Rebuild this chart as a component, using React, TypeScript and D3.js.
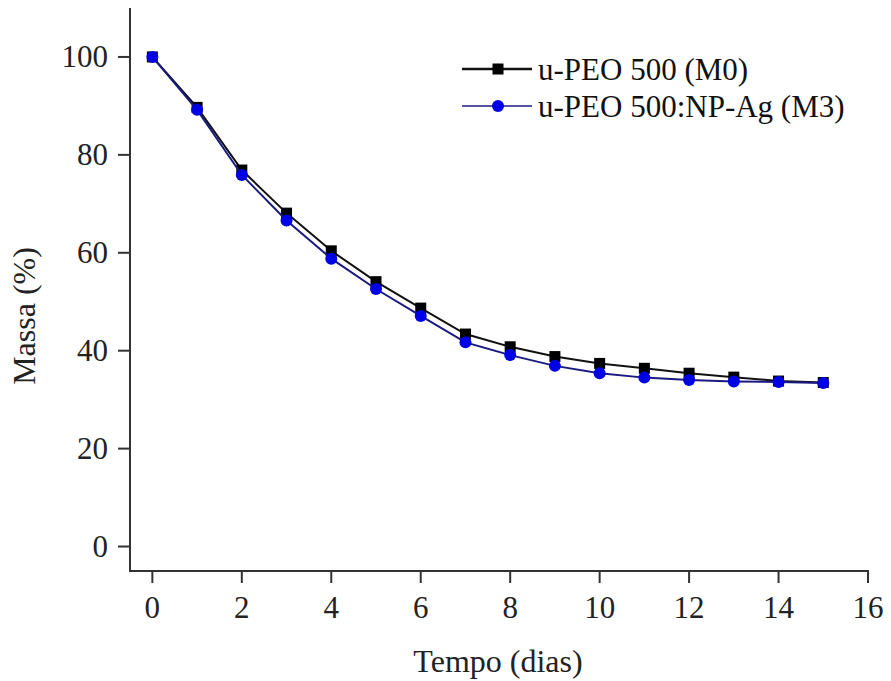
import React from "react";
import * as d3 from "d3";

const days = [0, 1, 2, 3, 4, 5, 6, 7, 8, 9, 10, 11, 12, 13, 14, 15];
const massM0 = [100, 89.7, 76.9, 68.1, 60.4, 54.1, 48.7, 43.4, 40.8, 38.8, 37.4, 36.4, 35.4, 34.6, 33.8, 33.5];
const massM3 = [100, 89.2, 75.9, 66.6, 58.8, 52.6, 47.1, 41.7, 39.1, 36.9, 35.4, 34.5, 34.0, 33.7, 33.6, 33.4];
const xTicks = [0, 2, 4, 6, 8, 10, 12, 14, 16];
const yTicks = [0, 20, 40, 60, 80, 100];
const seriesNames = ["u-PEO 500 (M0)", "u-PEO 500:NP-Ag (M3)"];

const W = 891, H = 681;
const left = 130, right = 868, top = 8, bottom = 571;

export default function App() {
  const x = d3.scaleLinear().domain([-0.5, 16]).range([left, right]);
  const y = d3.scaleLinear().domain([-5, 110]).range([bottom, top]);
  const line = d3.line<number>().x((_, i) => x(days[i])).y((d) => y(d));
  const font = "'Liberation Serif', 'Times New Roman', serif";
  const sq = 11;
  const fs = 31;
  return (
    <svg width={W} height={H} style={{ position: "absolute", left: 0, top: 0, background: "#fff" }} fontFamily={font}>
      <rect width={W} height={H} fill="#fff" />
      {/* axes */}
      <line x1={left} y1={top} x2={left} y2={bottom + 1} stroke="#333" strokeWidth={2} />
      <line x1={left - 1} y1={bottom} x2={right + 1} y2={bottom} stroke="#333" strokeWidth={2} />
      {yTicks.map((t) => (
        <g key={"y" + t}>
          <line x1={left - 12} x2={left} y1={y(t)} y2={y(t)} stroke="#333" strokeWidth={2} />
          <text x={108} y={y(t)} dy="0.34em" textAnchor="end" fontSize={fs} fill="#222">{t}</text>
        </g>
      ))}
      {xTicks.map((t) => (
        <g key={"x" + t}>
          <line x1={x(t)} x2={x(t)} y1={bottom} y2={bottom + 12} stroke="#333" strokeWidth={2} />
          <text x={x(t)} y={618} textAnchor="middle" fontSize={fs} fill="#222">{t}</text>
        </g>
      ))}
      <text x={498} y={672} textAnchor="middle" fontSize={32} fill="#222">Tempo (dias)</text>
      <text transform={`translate(35,316) rotate(-90)`} textAnchor="middle" fontSize={32} fill="#222">Massa (%)</text>
      {/* series M0 */}
      <path d={line(massM0) || ""} fill="none" stroke="#111" strokeWidth={2} />
      {massM0.map((v, i) => (
        <rect key={"s" + i} x={x(days[i]) - sq / 2} y={y(v) - sq / 2} width={sq} height={sq} fill="#000" />
      ))}
      {/* series M3 */}
      <path d={line(massM3) || ""} fill="none" stroke="#1a1a80" strokeWidth={2} />
      {massM3.map((v, i) => (
        <circle key={"c" + i} cx={x(days[i])} cy={y(v)} r={6} fill="#0000e6" />
      ))}
      {/* legend */}
      <line x1={462} x2={532} y1={69} y2={69} stroke="#111" strokeWidth={2.5} />
      <rect x={498 - sq / 2} y={69 - sq / 2} width={sq} height={sq} fill="#000" />
      <text x={538} y={69} dy="0.34em" fontSize={fs} fill="#111">{seriesNames[0]}</text>
      <line x1={462} x2={532} y1={106} y2={106} stroke="#1a1a80" strokeWidth={1.5} />
      <circle cx={498} cy={106} r={6} fill="#0000e6" />
      <text x={538} y={106} dy="0.34em" fontSize={fs} fill="#111">{seriesNames[1]}</text>
    </svg>
  );
}
